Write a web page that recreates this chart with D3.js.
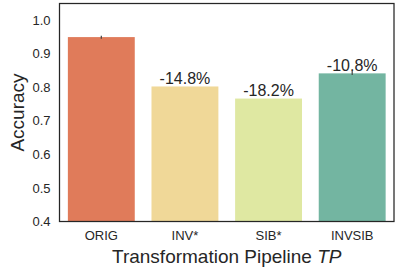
<!DOCTYPE html>
<html>
<head>
<meta charset="utf-8">
<script src="https://cdn.jsdelivr.net/npm/d3@7"></script>
<style>
  body { margin: 0; background: #fff; }
  text { font-family: Arial, "Liberation Sans", sans-serif; fill: #262626; }
</style>
</head>
<body>
<svg id="chart" width="400" height="267"></svg>
<script>
// data
let categories = ["ORIG", "INV*", "SIB*", "INVSIB"];
let accuracy = [0.949, 0.802, 0.766, 0.841];
let errLow = [0.944, 0.802, 0.766, 0.836];
let errHigh = [0.953, 0.802, 0.766, 0.849];
let changeLabels = ["", "-14.8%", "-18.2%", "-10.8%"];
let barColors = ["#e07b5a", "#f0d898", "#dfe8a2", "#73b5a1"];
let yTicks = [0.4, 0.5, 0.6, 0.7, 0.8, 0.9, 1.0];

const svg = d3.select("#chart");
const margin = {left: 59.5, right: 6, top: 3.5, bottom: 45.5};
const width = 400 - margin.left - margin.right;
const height = 267 - margin.top - margin.bottom;

const g = svg.append("g")
    .attr("transform", "translate(" + margin.left + "," + margin.top + ")");

// seaborn style bands: bar width 0.8, half a gap at each end
const xAxis = d3.scaleBand().domain(categories).range([0, width])
    .paddingInner(0.2).paddingOuter(0.1);
const yAxis = d3.scaleLinear().domain([0.4, 1.049]).range([height, 0]);

// bars
g.selectAll("rect.bar")
    .data(categories)
    .enter()
    .append("rect")
    .attr("class", "bar")
    .attr("x", d => xAxis(d))
    .attr("width", xAxis.bandwidth())
    .attr("y", (d, i) => yAxis(accuracy[i]))
    .attr("height", (d, i) => height - yAxis(accuracy[i]))
    .attr("fill", (d, i) => barColors[i]);

// error bars
g.selectAll("line.err")
    .data(categories)
    .enter()
    .append("line")
    .attr("class", "err")
    .attr("x1", d => xAxis(d) + xAxis.bandwidth() / 2)
    .attr("x2", d => xAxis(d) + xAxis.bandwidth() / 2)
    .attr("y1", (d, i) => yAxis(errLow[i]))
    .attr("y2", (d, i) => yAxis(errHigh[i]))
    .attr("stroke", "#424242")
    .attr("stroke-width", 1.2);

// change labels
g.selectAll("text.change")
    .data(categories)
    .enter()
    .append("text")
    .attr("class", "change")
    .attr("x", d => xAxis(d) + xAxis.bandwidth() / 2)
    .attr("y", (d, i) => yAxis(accuracy[i]) - 2.5)
    .attr("text-anchor", "middle")
    .style("font-size", "16px")
    .text((d, i) => changeLabels[i]);

// y axis
const yAx = g.append("g")
    .call(d3.axisLeft(yAxis).tickValues(yTicks).tickFormat(d3.format(".1f")).tickSize(0).tickPadding(9));
yAx.select(".domain").remove();
yAx.selectAll("text").style("font-size", "13px").attr("fill", "#262626");

// x axis
const xAx = g.append("g")
    .attr("transform", "translate(0," + height + ")")
    .call(d3.axisBottom(xAxis).tickSize(0).tickPadding(9));
xAx.select(".domain").remove();
xAx.selectAll("text").style("font-size", "13px").attr("fill", "#262626");

// frame
g.append("rect")
    .attr("width", width)
    .attr("height", height)
    .attr("fill", "none")
    .attr("stroke", "#262626")
    .attr("stroke-width", 1.25);

// axis titles
svg.append("text")
    .attr("transform", "translate(24," + (margin.top + height / 2) + ") rotate(-90)")
    .attr("text-anchor", "middle")
    .style("font-size", "19px")
    .text("Accuracy");

const xt = svg.append("text")
    .attr("x", margin.left + width / 2)
    .attr("y", 263)
    .attr("text-anchor", "middle")
    .style("font-size", "19px");
xt.append("tspan").text("Transformation Pipeline ");
xt.append("tspan").style("font-style", "italic").text("TP");
</script>
</body>
</html>
